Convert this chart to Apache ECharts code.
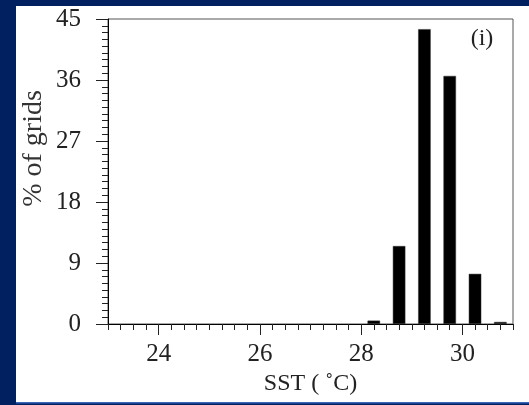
<!DOCTYPE html>
<html>
<head>
<meta charset="utf-8">
<script src="https://cdn.jsdelivr.net/npm/echarts@6/dist/echarts.min.js"></script>
<style>
html,body{margin:0;padding:0;background:#002060;}
#c{width:529px;height:405px;}
</style>
</head>
<body>
<div id="c"></div>
<script>
// SST bin centres (°C) and % of grids
const sstBins = [28.25, 28.75, 29.25, 29.75, 30.25, 30.75];
const pctGrids = [0.5, 11.5, 43.5, 36.6, 7.4, 0.3];
const xTickLabels = [24, 26, 28, 30];
const yTicks = [0, 9, 18, 27, 36, 45];

const FONT = '"Liberation Serif", serif';
const chart = echarts.init(document.getElementById('c'), null, {renderer: 'canvas'});
chart.setOption({
  backgroundColor: 'transparent',
  animation: false,
  graphic: [
    {type: 'rect', shape: {x: 16, y: 6, width: 513, height: 396}, style: {fill: '#ffffff'}, z: -10},
    {type: 'rect', shape: {x: 16, y: 402, width: 513, height: 1.5}, style: {fill: '#3a66b8'}, z: -10},
    {type: 'text', x: 34, y: 148.5, rotation: Math.PI / 2,
      style: {text: '% of grids', font: '28px ' + FONT, fill: '#333', align: 'center', verticalAlign: 'middle'}},
    {type: 'text', x: 482, y: 39,
      style: {text: '(i)', font: '24px ' + FONT, fill: '#222', align: 'center', verticalAlign: 'middle'}}
  ],
  grid: {left: 108, right: 16, top: 19, bottom: 81, show: true, borderColor: '#555', borderWidth: 1, backgroundColor: 'transparent'},
  xAxis: [
    {
      type: 'value', min: 23, max: 31, interval: 0.25, position: 'bottom',
      name: 'SST ( \u02DAC)', nameLocation: 'middle', nameGap: 42,
      nameTextStyle: {fontFamily: FONT, fontSize: 24, color: '#222'},
      axisLine: {show: true, lineStyle: {color: '#000', width: 1}},
      axisTick: {show: true, length: 6, lineStyle: {color: '#222'}},
      axisLabel: {customValues: xTickLabels, margin: 18, fontFamily: FONT, fontSize: 25, color: '#222'},
      splitLine: {show: false}
    },
    {
      type: 'value', min: 23, max: 31, position: 'bottom',
      axisLine: {show: false},
      axisTick: {show: true, customValues: xTickLabels, length: 11, lineStyle: {color: '#222'}},
      axisLabel: {show: false},
      splitLine: {show: false}
    }
  ],
  yAxis: {
    type: 'value', min: 0, max: 45, interval: 9,
    axisLine: {show: true, lineStyle: {color: '#000', width: 1}},
    axisTick: {show: true, length: 12, lineStyle: {color: '#222'}},
    minorTick: {show: true, splitNumber: 9, length: 6, lineStyle: {color: '#222'}},
    axisLabel: {margin: 27, fontFamily: FONT, fontSize: 25, color: '#222'},
    splitLine: {show: false}
  },
  series: [{
    type: 'bar', xAxisIndex: 0,
    data: sstBins.map((x, i) => [x, pctGrids[i]]),
    barWidth: 12.5,
    itemStyle: {color: '#000', borderColor: '#333', borderWidth: 0.5}
  }]
});
</script>
</body>
</html>
